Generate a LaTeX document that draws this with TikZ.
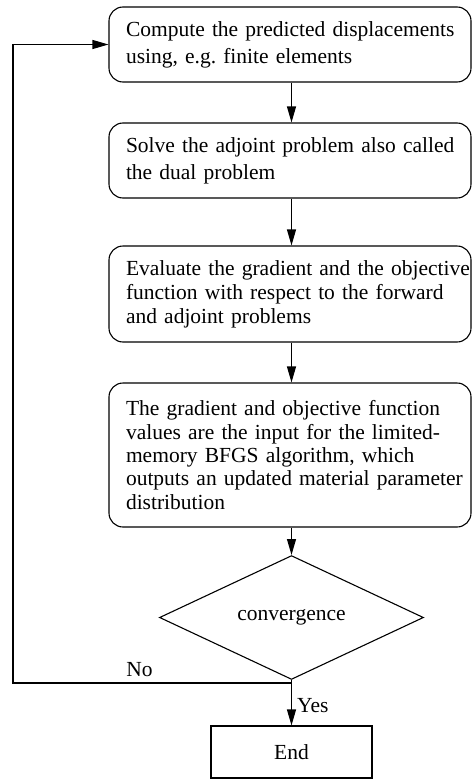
\documentclass[tikz,border=0pt]{standalone}
\usepackage{fontspec}
\setmainfont{Liberation Serif}
\usetikzlibrary{arrows.meta,shapes.geometric}

\begin{document}
\begin{tikzpicture}[x=1pt,y=-1pt,
  stepbox/.style={draw, line width=1.1pt, rounded corners=14pt, minimum width=362pt,
    text width=362pt, inner xsep=0pt, align=left, execute at begin node={\frenchspacing\leftskip=17pt}},
  decision/.style={draw, line width=1.1pt, diamond, minimum width=264pt, minimum height=86pt, inner sep=0pt},
  endbox/.style={draw, line width=1.1pt, minimum width=161pt, minimum height=52pt},
  arr/.style={line width=1.1pt, -{Triangle[length=16pt,width=9pt]}},
  font=\fontsize{21.5}{26}\selectfont]
\useasboundingbox (0,0) rectangle (472,779);

\node[stepbox, minimum height=75pt, font=\fontsize{21.5}{27}\selectfont] (predict) at (290,44.5)
  {Compute the predicted displacements\\using, e.g. finite elements};
\node[stepbox, minimum height=75pt, font=\fontsize{21.5}{27}\selectfont] (adjoint) at (290,160.5)
  {Solve the adjoint problem also called\\the dual problem};
\node[stepbox, minimum height=96pt, font=\fontsize{21.5}{24}\selectfont] (gradient) at (290,294)
  {Evaluate the gradient and the objective\\function with respect to the forward\\and adjoint problems};
\node[stepbox, minimum height=144pt, font=\fontsize{21.5}{23.4}\selectfont] (lbfgs) at (290,455)
  {The gradient and objective function\\values are the input for the limited-\\memory BFGS algorithm, which\\outputs an updated material parameter\\distribution};
\node[decision] (conv) at (291.5,617.5) {convergence};
\node[endbox] (finish) at (291.5,752) {End};

\coordinate (nosplit) at (291.5,683);
\coordinate (backcorner) at (13,683);

\draw[arr] (predict.south -| conv) -- (adjoint.north -| conv);
\draw[arr] (adjoint.south -| conv) -- (gradient.north -| conv);
\draw[arr] (gradient.south -| conv) -- (lbfgs.north -| conv);
\draw[arr] (lbfgs.south -| conv) -- (conv.north);
\draw[arr] (conv.south) -- (finish.north);
\draw[arr] (nosplit) -- (backcorner) |- (predict.west);

\node (no) at (139.5,670) {No};
\node[anchor=west, inner sep=0pt] (yes) at (297,706) {Yes};
\end{tikzpicture}
\end{document}
